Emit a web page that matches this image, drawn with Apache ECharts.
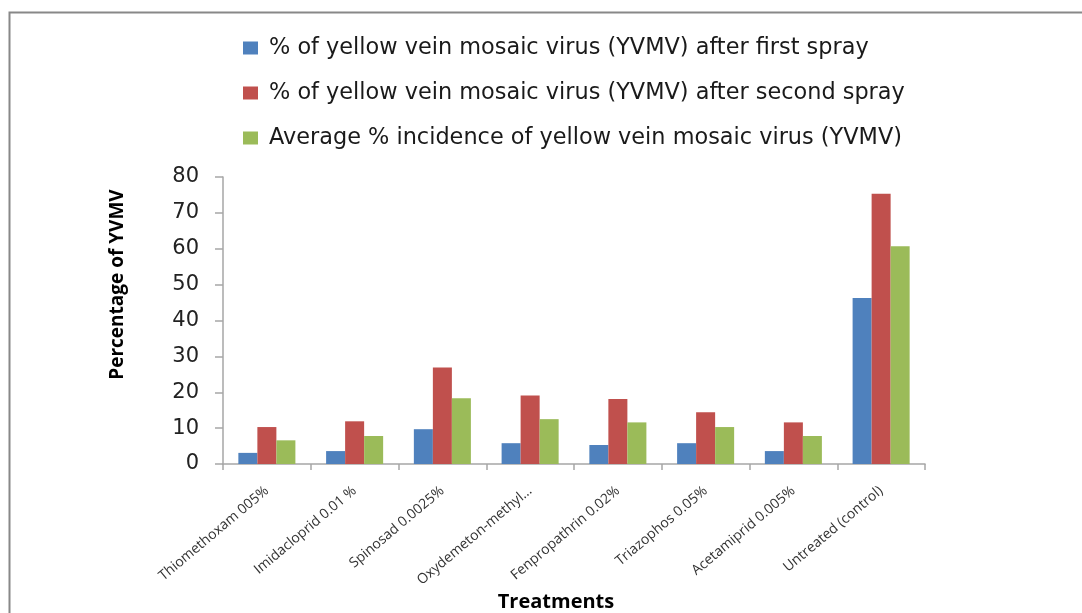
<!DOCTYPE html>
<html>
<head>
<meta charset="utf-8">
<script src="https://cdn.jsdelivr.net/npm/echarts@6/dist/echarts.min.js"></script>
<style>
  html, body { margin: 0; padding: 0; background: #fff; }
  #chart { width: 1082px; height: 613px; }
</style>
</head>
<body>
<div id="chart"></div>
<script>
const treatments = [
  'Thiomethoxam 005%',
  'Imidacloprid 0.01 %',
  'Spinosad 0.0025%',
  'Oxydemeton-methyl…',
  'Fenpropathrin 0.02%',
  'Triazophos 0.05%',
  'Acetamiprid 0.005%',
  'Untreated (control)'
]
const seriesNames = [
  '% of yellow vein mosaic virus (YVMV) after first spray',
  '% of yellow vein mosaic virus (YVMV) after second spray',
  'Average % incidence of yellow vein mosaic virus (YVMV)'
]
const firstSpray = [3.1, 3.6, 9.7, 5.8, 5.3, 5.8, 3.6, 46.3]
const secondSpray = [10.3, 11.9, 26.9, 19.1, 18.1, 14.4, 11.6, 75.3]
const averageIncidence = [6.6, 7.8, 18.3, 12.5, 11.6, 10.3, 7.8, 60.7]
const colors = ['#4F81BD', '#C0504D', '#9BBB59']

const chart = echarts.init(document.getElementById('chart'))

const font = 'Open Sans'
const axisGrey = '#a6a6a6'

const option = {
  animation: false,
  color: colors,
  graphic: [
    {
      type: 'rect',
      left: 7,
      top: 10,
      shape: { width: 1100, height: 700 },
      style: { fill: 'none', stroke: '#888', lineWidth: 2 },
      silent: true
    }
  ],
  legend: {
    orient: 'vertical',
    left: 243,
    top: 36,
    padding: 0,
    itemWidth: 15,
    itemHeight: 13,
    itemGap: 21,
    icon: 'rect',
    textStyle: {
      fontFamily: 'DejaVu Sans',
      fontSize: 22.4,
      lineHeight: 24,
      color: '#1a1a1a',
      padding: [0, 0, 0, 6]
    },
    data: seriesNames
  },
  grid: {
    left: 223,
    right: 157,
    top: 177,
    bottom: 149,
    containLabel: false
  },
  xAxis: {
    type: 'category',
    data: treatments,
    name: 'Treatments',
    nameLocation: 'middle',
    nameGap: 128,
    nameTextStyle: {
      fontFamily: font, fontSize: 20, fontWeight: 'bold', color: '#000',
      padding: [0, 36, 0, 0]
    },
    axisLine: { lineStyle: { color: axisGrey, width: 1.5 } },
    axisTick: { show: true, length: 6, lineStyle: { color: axisGrey, width: 1.5 } },
    axisLabel: {
      interval: 0,
      rotate: 40,
      margin: 25,
      fontFamily: font,
      fontSize: 14,
      color: '#333'
    }
  },
  yAxis: {
    type: 'value',
    min: 0,
    max: 80,
    interval: 10,
    name: 'Percentage of YVMV',
    nameLocation: 'middle',
    nameGap: 96,
    nameTextStyle: {
      fontFamily: font, fontSize: 19, fontWeight: 'bold', color: '#000',
      padding: [0, 0, 0, 72]
    },
    axisLine: { show: true, lineStyle: { color: axisGrey, width: 1.5 } },
    axisTick: { show: true, length: 8, lineStyle: { color: axisGrey, width: 1.5 } },
    splitLine: { show: false },
    axisLabel: {
      margin: 24,
      fontFamily: 'DejaVu Sans',
      fontSize: 21,
      color: '#222'
    }
  },
  series: [
    { name: seriesNames[0], type: 'bar', data: firstSpray, barGap: '0%', barCategoryGap: '35%' },
    { name: seriesNames[1], type: 'bar', data: secondSpray, barGap: '0%', barCategoryGap: '35%' },
    { name: seriesNames[2], type: 'bar', data: averageIncidence, barGap: '0%', barCategoryGap: '35%' }
  ]
}

chart.setOption(option)
</script>
</body>
</html>
